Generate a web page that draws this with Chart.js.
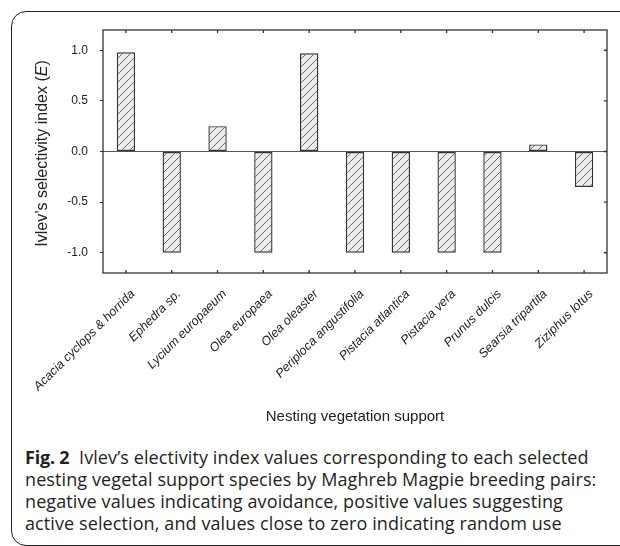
<!DOCTYPE html>
<html>
<head>
<meta charset="utf-8">
<script src="https://cdn.jsdelivr.net/npm/chart.js@4.4.0/dist/chart.umd.min.js"></script>
<style>
  html, body { margin: 0; padding: 0; background: #fff; }
  body { width: 620px; height: 546px; position: relative; overflow: hidden; }
  #frame {
    position: absolute; left: 11px; top: 11px; width: 640px; height: 535px;
    border: 1.3px solid #222; border-radius: 15px; box-sizing: border-box;
  }
  #wrap { position: absolute; left: 0; top: 0; width: 620px; height: 432px; }
  #caption {
    position: absolute; left: 25px; top: 446px;
    font-family: "Open Sans", "Noto Sans", sans-serif; font-size: 18px;
    line-height: 22px; color: #231f20; letter-spacing: 0.1px; white-space: nowrap;
  }
  #caption b { font-weight: 700; letter-spacing: -0.2px; }
</style>
</head>
<body>
<div id="frame"></div>
<div id="wrap"><canvas id="chart"></canvas></div>
<div id="caption">
  <div><b>Fig. 2</b>&nbsp; Ivlev’s electivity index values corresponding to each selected</div>
  <div>nesting vegetal support species by Maghreb Magpie breeding pairs:</div>
  <div>negative values indicating avoidance, positive values suggesting</div>
  <div>active selection, and values close to zero indicating random use</div>
</div>
<script>
document.addEventListener('DOMContentLoaded', function () {
  // Data
  const species = [
    'Acacia cyclops & horrida', 'Ephedra sp.', 'Lycium europaeum', 'Olea europaea',
    'Olea oleaster', 'Periploca angustifolia', 'Pistacia atlantica', 'Pistacia vera',
    'Prunus dulcis', 'Searsia tripartita', 'Ziziphus lotus'
  ];
  const ivlevE = [0.98, -1.0, 0.25, -1.0, 0.97, -1.0, -1.0, -1.0, -1.0, 0.07, -0.35];
  const yTicks = [-1.0, -0.5, 0.0, 0.5, 1.0];

  const axisFont = '"Liberation Sans", Arial, sans-serif';

  // Hatched fill: light grey with diagonal lines
  function makeHatch() {
    const c = document.createElement('canvas');
    c.width = 8; c.height = 8;
    const g = c.getContext('2d');
    g.fillStyle = '#ececec';
    g.fillRect(0, 0, 8, 8);
    g.strokeStyle = '#4a4a4a';
    g.lineWidth = 0.8;
    g.beginPath();
    g.moveTo(0, 8); g.lineTo(8, 0);
    g.moveTo(-1, 1); g.lineTo(1, -1);
    g.moveTo(7, 9); g.lineTo(9, 7);
    g.stroke();
    return g.createPattern(c, 'repeat');
  }

  // Frame, inward ticks, zero line, rotated category labels, y title
  const framePlugin = {
    id: 'framePlugin',
    afterDatasetsDraw(chart) {
      const ctx = chart.ctx;
      const a = chart.chartArea;
      const x = chart.scales.x, y = chart.scales.y;
      ctx.save();
      // zero line
      const y0 = y.getPixelForValue(0);
      ctx.strokeStyle = '#555';
      ctx.lineWidth = 1.2;
      ctx.beginPath();
      ctx.moveTo(a.left, y0); ctx.lineTo(a.right, y0);
      ctx.stroke();
      // frame
      ctx.strokeStyle = '#333';
      ctx.lineWidth = 1.3;
      ctx.strokeRect(a.left, a.top, a.right - a.left, a.bottom - a.top);
      // inward ticks on top, bottom, right
      ctx.beginPath();
      for (let i = 0; i < species.length; i++) {
        const px = x.getPixelForValue(i);
        ctx.moveTo(px, a.top); ctx.lineTo(px, a.top + 3);
        ctx.moveTo(px, a.bottom); ctx.lineTo(px, a.bottom - 3);
      }
      yTicks.forEach(function (v) {
        const py = y.getPixelForValue(v);
        ctx.moveTo(a.right, py); ctx.lineTo(a.right - 3, py);
      });
      ctx.stroke();
      ctx.restore();
    },
    afterDraw(chart) {
      const ctx = chart.ctx;
      const a = chart.chartArea;
      const x = chart.scales.x;
      ctx.save();
      // category labels, italic, rotated 45 degrees
      ctx.fillStyle = '#222';
      ctx.font = 'italic 12.5px ' + axisFont;
      ctx.textAlign = 'right';
      ctx.textBaseline = 'middle';
      species.forEach(function (s, i) {
        const px = x.getPixelForValue(i);
        ctx.save();
        ctx.translate(px + 7, a.bottom + 19);
        ctx.rotate(-Math.PI / 4);
        ctx.fillText(s, 0, 0);
        ctx.restore();
      });
      // y axis title with italic E
      const parts = [
        { t: 'Ivlev’s selectivity index (', f: '16px ' + axisFont },
        { t: 'E', f: 'italic 16px ' + axisFont },
        { t: ')', f: '16px ' + axisFont }
      ];
      let total = 0;
      parts.forEach(function (p) { ctx.font = p.f; p.w = ctx.measureText(p.t).width; total += p.w; });
      ctx.translate(43, (a.top + a.bottom) / 2 + 2);
      ctx.rotate(-Math.PI / 2);
      ctx.textAlign = 'left';
      let cx = -total / 2;
      parts.forEach(function (p) { ctx.font = p.f; ctx.fillText(p.t, cx, 0); cx += p.w; });
      ctx.restore();
    }
  };

  const ctx = document.getElementById('chart').getContext('2d');
  new Chart(ctx, {
    type: 'bar',
    data: {
      labels: species,
      datasets: [{
        data: ivlevE,
        backgroundColor: makeHatch(),
        borderColor: '#333',
        borderWidth: 1.4,
        borderSkipped: false,
        barPercentage: 0.8,
        categoryPercentage: 0.5
      }]
    },
    options: {
      responsive: true,
      maintainAspectRatio: false,
      animation: false,
      layout: { padding: { left: 0, top: 30, right: 13, bottom: 0 } },
      plugins: { legend: { display: false }, tooltip: { enabled: false } },
      scales: {
        x: {
          grid: { display: false },
          border: { display: false },
          ticks: { display: false },
          title: {
            display: true, text: 'Nesting vegetation support', color: '#222',
            font: { family: axisFont, size: 15 }, padding: { top: 0, bottom: 6 }
          },
          afterFit(scale) { scale.height = 159; }
        },
        y: {
          min: -1.2, max: 1.2,
          grid: { drawOnChartArea: false, drawTicks: true, tickLength: 3, color: '#333' },
          border: { display: false },
          ticks: {
            stepSize: 0.5, padding: 12, color: '#222',
            font: { family: axisFont, size: 12 },
            callback: function (v) { return Number(v).toFixed(1); }
          },
          afterBuildTicks(scale) { scale.ticks = yTicks.map(function (v) { return { value: v }; }); },
          afterFit(scale) { scale.width = 103; }
        }
      }
    },
    plugins: [framePlugin]
  });
});
</script>
</body>
</html>
